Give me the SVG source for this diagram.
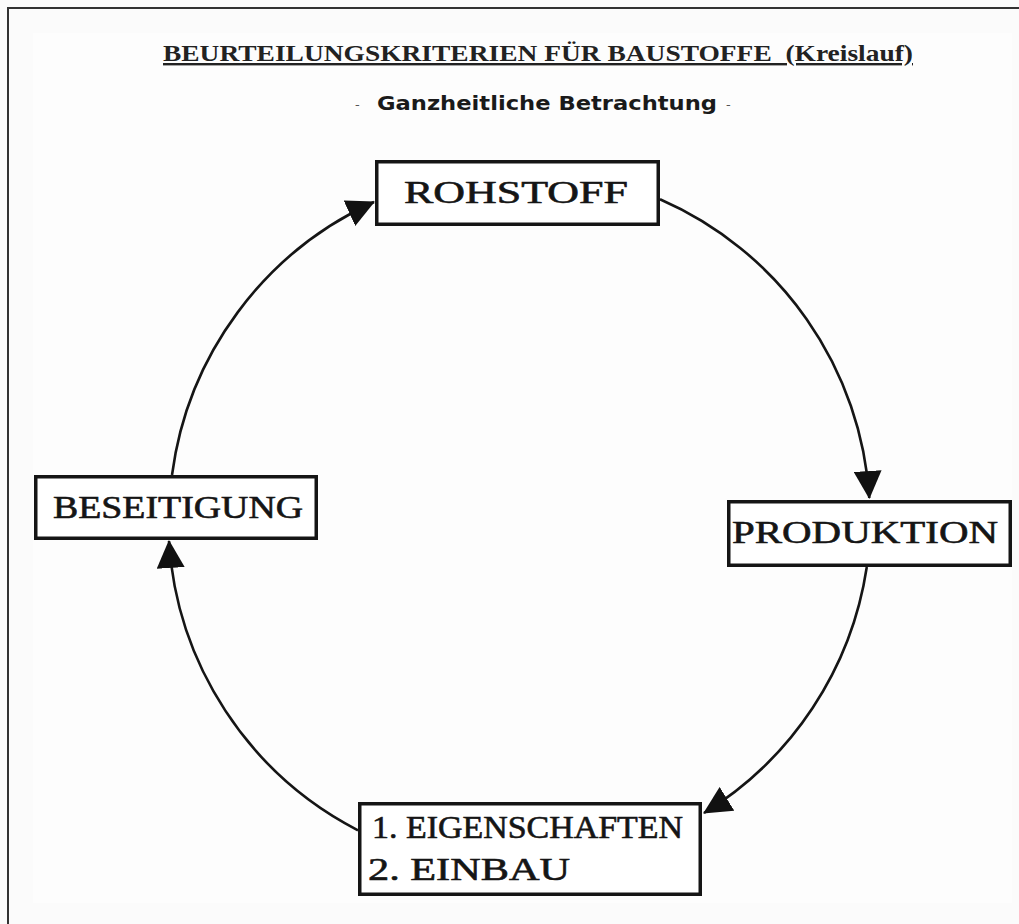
<svg xmlns="http://www.w3.org/2000/svg" width="1019" height="924" viewBox="0 0 1019 924">
  <defs>
    <marker id="arrow" markerUnits="userSpaceOnUse" markerWidth="28" markerHeight="28" viewBox="0 0 28 28" refX="27" refY="14" orient="auto">
      <path d="M0,0 L28,14 L0,28 z" fill="#111"/>
    </marker>
    <style>
      .box { fill: #fff; stroke: #151515; stroke-width: 3.5; }
      .lbl { font-family: "Liberation Serif", "DejaVu Serif", serif; font-size: 31px; fill: #151515; stroke: #151515; stroke-width: 0.6; }
      .conn { fill: none; stroke: #151515; stroke-width: 2.6; marker-end: url(#arrow); }
      .title { font-family: "Liberation Serif", serif; font-weight: bold; font-size: 24px; fill: #222; text-decoration: underline; white-space: pre; }
      .sub { font-family: "DejaVu Sans", "Liberation Sans", sans-serif; font-weight: bold; font-size: 19px; fill: #1a1a1a; }
      .dash { font-family: "DejaVu Sans", sans-serif; font-size: 13px; fill: #555; }
    </style>
  </defs>

  <rect x="0" y="0" width="1019" height="924" fill="#fbfbfb"/>
  <rect x="33" y="33" width="979" height="870" fill="#fdfdfd"/>
  <path d="M8,924 L8,8 L1019,8" fill="none" stroke="#333" stroke-width="2"/>

  <g id="title">
    <text class="title" x="163" y="61" textLength="750" lengthAdjust="spacingAndGlyphs" xml:space="preserve">BEURTEILUNGSKRITERIEN FÜR BAUSTOFFE  (Kreislauf)</text>
    <text class="dash" x="355" y="109">-</text>
    <text class="sub" x="377" y="110" textLength="340" lengthAdjust="spacingAndGlyphs">Ganzheitliche Betrachtung</text>
    <text class="dash" x="726" y="109">-</text>
  </g>

  <g id="connectors">
    <path class="conn" d="M660,199.2 A350,350 0 0 1 869.3,498"/>
    <path class="conn" d="M866.8,567 A350,350 0 0 1 704,813"/>
    <path class="conn" d="M358,830.3 A350,350 0 0 1 169,541"/>
    <path class="conn" d="M172,475 A350,350 0 0 1 374,202"/>
  </g>

  <g id="rohstoff">
    <rect class="box" x="376.75" y="161.75" width="281.5" height="62.5"/>
    <text class="lbl" x="404" y="203" textLength="224" lengthAdjust="spacingAndGlyphs">ROHSTOFF</text>
  </g>

  <g id="produktion">
    <rect class="box" x="728.75" y="501.75" width="281.5" height="63.5"/>
    <text class="lbl" x="732" y="543" textLength="266" lengthAdjust="spacingAndGlyphs">PRODUKTION</text>
  </g>

  <g id="eigenschaften">
    <rect class="box" x="359.75" y="803.75" width="340.5" height="90.5"/>
    <text class="lbl" x="372" y="838" textLength="311" lengthAdjust="spacingAndGlyphs">1. EIGENSCHAFTEN</text>
    <text class="lbl" x="368" y="880" textLength="202" lengthAdjust="spacingAndGlyphs">2. EINBAU</text>
  </g>

  <g id="beseitigung">
    <rect class="box" x="35.75" y="476.75" width="280.5" height="61.5"/>
    <text class="lbl" x="53" y="518" textLength="250" lengthAdjust="spacingAndGlyphs">BESEITIGUNG</text>
  </g>
</svg>
